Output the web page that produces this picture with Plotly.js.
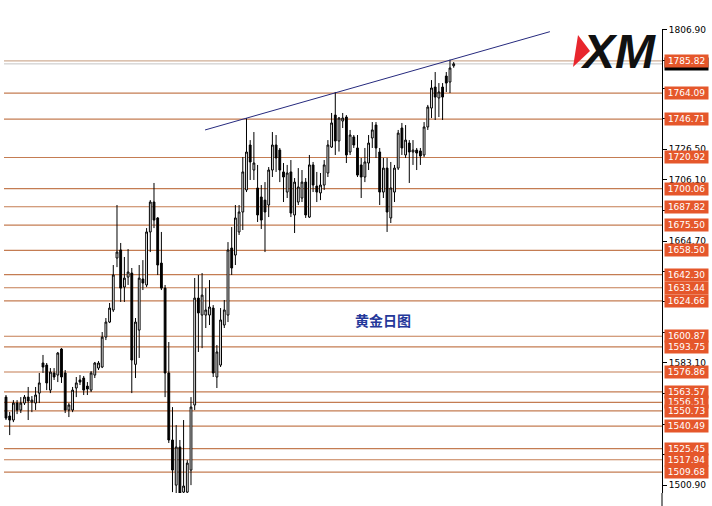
<!DOCTYPE html>
<html><head><meta charset="utf-8">
<script src="https://cdn.plot.ly/plotly-3.0.1.min.js"></script>
<style>html,body{margin:0;padding:0;background:#fff}#chart{width:712px;height:506px}</style>
</head><body><div id="chart"></div>
<script>
// ---- data ----
const openP = [1560.0,1547.3,1544.6,1556.0,1551.3,1556.0,1560.0,1556.7,1556.0,1562.7,
1582.9,1581.5,1564.7,1576.2,1574.8,1592.3,1576.2,1551.3,1551.3,1566.1,
1571.5,1572.8,1567.4,1564.7,1574.8,1579.5,1580.2,1600.3,1610.4,1618.5,
1653.4,1658.8,1633.9,1640.6,1643.3,1582.0,1605.0,1639.3,1635.3,1670.9,
1691.0,1680.3,1650.0,1633.2,1576.2,1531.2,1500.9,1526.5,1496.2,1496.2,
1511.0,1554.7,1626.5,1615.1,1615.1,1615.1,1619.8,1573.5,1581.5,1608.4,
1615.1,1660.1,1655.4,1670.9,1684.3,1699.1,1729.3,1712.5,1700.4,1694.4,
1692.3,1689.0,1712.5,1729.3,1725.9,1711.2,1697.7,1711.2,1682.3,1691.0,
1693.7,1704.4,1680.9,1715.9,1701.7,1697.1,1702.4,1710.5,1727.9,1749.4,
1732.0,1745.4,1748.1,1724.6,1734.7,1727.3,1715.9,1707.8,1717.2,1734.0,
1742.7,1724.6,1697.7,1713.8,1680.3,1697.7,1713.8,1740.7,1722.6,1730.6,
1724.6,1725.9,1725.3,1722.6,1741.4,1754.1,1768.2,1760.9,1768.2,1775.6,
1771.6,1782.5];
const highP = [1561.4,1550.0,1558.0,1558.0,1560.0,1561.4,1566.8,1560.7,1566.8,1576.2,
1588.3,1582.9,1579.5,1579.5,1590.3,1592.9,1578.2,1556.0,1566.8,1573.5,
1574.8,1574.2,1570.1,1577.5,1583.6,1584.2,1603.7,1613.1,1623.2,1648.7,
1689.0,1663.5,1654.1,1659.4,1646.7,1613.1,1648.7,1652.0,1673.5,1692.3,
1703.8,1680.9,1670.9,1635.3,1597.0,1553.3,1541.2,1531.2,1544.6,1517.7,
1560.0,1640.0,1642.0,1643.3,1633.2,1638.6,1621.8,1595.0,1619.8,1625.2,
1664.1,1674.2,1689.0,1689.0,1721.2,1747.4,1732.6,1738.0,1715.9,1702.4,
1704.4,1714.5,1738.0,1736.0,1727.3,1717.2,1715.9,1719.2,1707.1,1713.8,
1712.5,1707.1,1722.6,1717.9,1711.2,1710.5,1719.2,1732.6,1750.8,1764.9,
1748.1,1750.8,1749.4,1739.4,1736.0,1736.0,1720.6,1727.3,1736.0,1744.7,
1744.7,1727.3,1720.6,1720.6,1717.9,1715.9,1739.4,1744.1,1742.7,1732.6,
1732.6,1727.3,1727.3,1744.7,1756.2,1772.9,1778.3,1770.9,1770.9,1778.3,
1786.6,1785.0];
const lowP = [1544.6,1534.5,1543.2,1548.6,1549.3,1554.7,1544.6,1549.9,1551.3,1556.0,
1576.2,1564.7,1562.7,1571.5,1570.1,1569.5,1549.3,1546.6,1549.9,1560.0,
1568.1,1561.4,1561.4,1563.4,1572.8,1578.2,1579.5,1598.3,1609.7,1617.2,
1647.3,1623.9,1623.9,1635.3,1562.7,1572.8,1586.3,1631.9,1633.9,1657.4,
1673.5,1642.0,1631.9,1560.0,1529.2,1496.2,1495.6,1494.2,1494.2,1494.2,
1500.9,1551.3,1590.3,1592.9,1606.4,1608.4,1573.5,1566.1,1580.2,1606.4,
1610.4,1642.0,1648.7,1668.9,1672.2,1697.7,1705.8,1705.8,1677.6,1672.9,
1657.4,1680.9,1707.8,1711.2,1704.4,1691.0,1693.7,1680.9,1670.2,1689.0,
1691.0,1680.3,1680.3,1697.7,1691.0,1692.3,1699.1,1707.8,1727.3,1722.6,
1724.9,1740.7,1717.2,1722.6,1727.3,1707.8,1693.7,1704.4,1712.5,1727.3,
1720.6,1689.0,1693.7,1670.9,1676.9,1691.0,1712.5,1722.6,1720.6,1703.8,
1715.9,1712.5,1715.9,1721.2,1739.4,1747.4,1746.1,1748.1,1746.1,1764.9,
1764.2,1781.2];
const closeP = [1545.9,1544.6,1556.0,1551.3,1556.0,1560.0,1557.4,1558.0,1561.4,1569.5,
1580.2,1569.5,1576.8,1573.5,1589.6,1573.5,1551.3,1554.7,1564.7,1569.5,
1570.1,1564.7,1565.4,1576.2,1582.9,1582.9,1600.3,1610.4,1619.8,1642.0,
1657.4,1633.2,1639.9,1644.0,1584.9,1610.4,1639.9,1636.6,1670.9,1691.0,
1678.9,1648.7,1633.2,1576.2,1531.2,1511.0,1526.5,1495.6,1500.3,1515.7,
1553.3,1626.5,1616.5,1628.5,1618.5,1620.5,1576.2,1590.3,1611.8,1618.5,
1658.8,1646.7,1680.3,1684.3,1711.2,1724.6,1717.9,1717.2,1682.3,1678.9,
1684.3,1712.5,1729.3,1720.6,1712.5,1707.8,1710.5,1683.6,1704.4,1701.1,
1704.4,1682.3,1715.9,1702.4,1697.7,1702.4,1715.9,1729.3,1744.1,1732.0,
1747.4,1747.4,1722.6,1736.0,1729.3,1709.1,1707.8,1717.9,1730.6,1739.4,
1727.3,1697.7,1713.8,1684.3,1700.4,1713.8,1737.3,1727.3,1732.6,1724.6,
1725.9,1723.9,1721.9,1741.4,1754.8,1767.6,1761.5,1764.9,1761.5,1770.9,
1781.0,1783.77];
const levels = [1785.82,1764.09,1746.71,1720.92,1700.06,1687.82,1675.50,1658.50,1642.30,1633.44,
1624.66,1600.87,1593.75,1576.86,1563.57,1556.51,1550.73,1540.49,1525.45,1517.94,1509.68];
const bidPrice = 1783.77;
const trendX = [53.8, 147.0];
const trendY = [1739.4, 1805.4];
// axis ticks; those hidden under the level labels carry an empty label
const axisTicks = [1806.90,1786.30,1767.30,1746.90,1726.50,1706.10,1685.10,1664.70,1644.30,
1623.90,1603.50,1583.10,1562.70,1541.90,1521.40,1500.90];
const axisTickText = ['1806.90','','','','1726.50','1706.10','','1664.70','',
'','','1583.10','','','','1500.90'];
const chartLabel = '黄金日图';
const logoText = 'XM';

// ---- layout helpers (decoration only) ----
const W = 712, H = 506, ML = 0, MR = 50, MT = 29, MB = 13;
const PW = W - ML - MR, PH = H - MT - MB;
const px = x => (x - ML) / PW;
const py = y => (H - MB - y) / PH;

const idx = openP.map((_, i) => i);

const candle = {
  type: 'candlestick', x: idx, open: openP, high: highP, low: lowP, close: closeP,
  increasing: {line: {color: '#000', width: 1}, fillcolor: '#ffffff'},
  decreasing: {line: {color: '#000', width: 1}, fillcolor: '#000000'},
  whiskerwidth: 0, hoverinfo: 'skip', showlegend: false
};
const trend = {
  type: 'scatter', mode: 'lines', x: trendX, y: trendY,
  line: {color: '#262a7e', width: 1}, hoverinfo: 'skip', showlegend: false
};

const shapes = [];
levels.forEach((v, i) => {
  shapes.push({type: 'line', xref: 'paper', yref: 'y', x0: px(4), x1: 1, y0: v, y1: v,
    layer: 'below', line: {color: i === 0 ? '#cfae96' : '#c47c52', width: 1.2}});
});
shapes.push({type: 'line', xref: 'paper', yref: 'y', x0: px(4), x1: 1, y0: bidPrice, y1: bidPrice,
  layer: 'below', line: {color: '#c4c4c4', width: 1}});
// axis line extension to bottom
shapes.push({type: 'line', xref: 'paper', yref: 'paper', x0: 1, x1: 1, y0: py(506), y1: 0,
  line: {color: '#000', width: 1}});
// logo red triangle
shapes.push({type: 'path', xref: 'paper', yref: 'paper',
  path: `M ${px(578)} ${py(35)} L ${px(590)} ${py(51)} L ${px(573)} ${py(67)} Z`,
  fillcolor: '#e8262d', line: {width: 0}});

const annotations = [];
annotations.push({xref: 'paper', yref: 'y', x: 1, y: bidPrice, xanchor: 'left', yanchor: 'middle',
  xshift: 2, text: bidPrice.toFixed(2), showarrow: false, bgcolor: '#000', borderpad: 0,
  width: 43, height: 12, align: 'center',
  font: {family: 'DejaVu Sans', size: 9, color: '#fff'}});
levels.forEach(v => {
  annotations.push({xref: 'paper', yref: 'y', x: 1, y: v, xanchor: 'left', yanchor: 'middle',
    xshift: 2, text: v.toFixed(2), showarrow: false, bgcolor: '#e5572b', borderpad: 0,
    width: 43, height: 12, align: 'center',
    font: {family: 'DejaVu Sans', size: 9, color: '#fff'}});
});
annotations.push({xref: 'paper', yref: 'paper', x: px(383), y: py(320), text: chartLabel,
  showarrow: false, xanchor: 'center', yanchor: 'middle',
  font: {family: 'Noto Sans CJK SC', size: 14, color: '#24389a', weight: 'bold'}});
annotations.push({xref: 'paper', yref: 'paper', x: px(618), y: py(51), text: logoText,
  showarrow: false, xanchor: 'center', yanchor: 'middle',
  font: {family: 'Liberation Sans', size: 48, color: '#111', weight: 'bold', style: 'italic'}});

const layout = {
  width: W, height: H, margin: {l: ML, r: MR, t: MT, b: MB, pad: 0},
  paper_bgcolor: '#fff', plot_bgcolor: '#fff', showlegend: false, boxgap: 0.3,
  xaxis: {range: [-1.62, 177.3], showticklabels: false, showgrid: false, zeroline: false,
    showline: false, ticks: '', rangeslider: {visible: false}, fixedrange: true},
  yaxis: {side: 'right', range: [1495.6, 1807.2], showgrid: false, zeroline: false,
    showline: true, linecolor: '#000', linewidth: 1, ticks: 'outside', ticklen: 4,
    tickcolor: '#000', tickwidth: 1, tickvals: axisTicks, ticktext: axisTickText,
    tickfont: {family: 'DejaVu Sans', size: 9, color: '#000'}, fixedrange: true},
  shapes: shapes, annotations: annotations
};

Plotly.newPlot('chart', [candle, trend], layout, {displayModeBar: false, staticPlot: true});
</script>
</body></html>
